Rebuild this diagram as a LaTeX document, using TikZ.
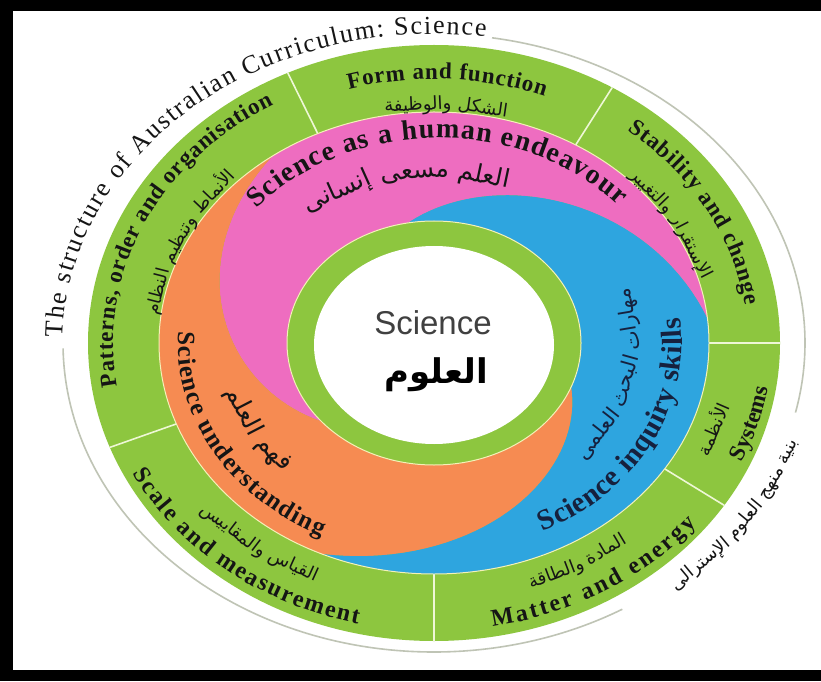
\documentclass[tikz,border=0pt]{standalone}
\usepackage{fontspec}
\setmainfont{Liberation Serif}
\newfontfamily\sansf{Liberation Sans}
\newfontfamily\arabicfont[Script=Arabic]{DejaVu Sans}
\usetikzlibrary{decorations.text}
\TeXXeTstate=1
\definecolor{grn}{HTML}{8DC63F}
\definecolor{pnk}{HTML}{EE6DC0}
\definecolor{org}{HTML}{F68B52}
\definecolor{blu}{HTML}{2EA5DF}
\definecolor{divl}{HTML}{EEF7D6}
\definecolor{pale}{HTML}{F4F1B8}
\definecolor{thinarc}{HTML}{BFC4B5}
\definecolor{txt}{HTML}{151515}
\definecolor{navy}{HTML}{16213E}
\definecolor{cgray}{HTML}{404040}
% text along an elliptical arc: cx, cy, rx, ry, start, end, align, text
\newcommand{\tap}[8]{%
  \path[decorate, decoration={text along path, text align={#7}, text={#8}}]
    ({#1+#3*cos(#5)},{#2+#4*sin(#5)}) arc[start angle=#5, end angle=#6, x radius=#3pt, y radius=#4pt];}
\newcommand{\ttlf}{\fontsize{26}{26}\selectfont\color{txt}}
\newcommand{\lblf}{\fontsize{23}{23}\selectfont\bfseries\color{txt}}
\newcommand{\lblg}{\fontsize{24}{24}\selectfont\bfseries\color{txt}}
\newcommand{\arf}{\arabicfont\fontsize{18}{18}\selectfont\color{txt}}
\newcommand{\arp}{\arabicfont\fontsize{25}{25}\selectfont\color{txt}}
\newcommand{\arb}{\arabicfont\fontsize{21}{21}\selectfont\color{navy}}
\newcommand{\ar}[1]{{\beginR #1\endR}}
\begin{document}
\begin{tikzpicture}[x=1pt,y=1pt,
  divider/.style={draw=divl, line width=1.6pt},
  thinline/.style={draw=thinarc, line width=1.6pt}]
\useasboundingbox (0,0) rectangle (821,681);
\fill[white] (0,0) rectangle (821,681);
% frame
\fill[black] (0,670) rectangle (821,681);
\fill[black] (0,0) rectangle (821,11);
\fill[black] (0,0) rectangle (13,681);
% outer green ring
\fill[grn] (434,338) ellipse[x radius=346pt, y radius=298pt];
% dividers
\foreach \a/\n in {115/d1, 59/d2, 0/d3, -33/d4, -90/d5, 200.5/d6}{
  \coordinate (\n i) at ({434+275*cos(\a)},{338+231*sin(\a)});
  \coordinate (\n o) at ({434+346*cos(\a)},{338+298*sin(\a)});
  \draw[divider] (\n i) -- (\n o);
}
% spiral regions
\foreach \t/\c in {6/pnk, 126/org, 246/blu}{
  \pgfmathsetmacro{\tn}{\t+120}
  \fill[\c] ({434+275*cos(\t)},{338+231*sin(\t)})
    arc[start angle=\t, end angle=\tn, x radius=275pt, y radius=231pt]
    -- plot[domain=0:120, samples=50, variable=\p]
       ({434+275*(1-\p/200)*cos(\tn+\p)},{338+231*(1-\p/200)*sin(\tn+\p)})
    -- plot[domain=0:120, samples=50, variable=\p]
       ({434+275*(0.4+\p/200)*cos(\tn-\p)},{338+231*(0.4+\p/200)*sin(\tn-\p)})
    -- cycle;
}
\draw[pale, line width=1pt] (434,338) ellipse[x radius=275pt, y radius=231pt];
% inner ring
\fill[grn, draw=pale, line width=1pt] (434,338) ellipse[x radius=147pt, y radius=122pt];
\fill[white] (434,336) ellipse[x radius=120pt, y radius=99pt];
% thin outer arcs
\draw[thinline] ({434+371*cos(81)},{338+309*sin(81)}) arc[start angle=81, end angle=-13, x radius=371pt, y radius=309pt];
\draw[thinline] ({434+371*cos(181)},{338+309*sin(181)}) arc[start angle=181, end angle=300.5, x radius=371pt, y radius=309pt];
% title
\tap{434}{338}{371}{309}{179}{82}{fit to path}{|\ttlf|The structure of Australian Curriculum: Science}
% outer ring English
\tap{434}{338}{309}{264}{106}{69}{fit to path}{|\lblf|Form and function}
\tap{434}{338}{321}{275}{189}{120}{fit to path}{|\lblf|Patterns, order and organisation}
\tap{434}{338}{314}{269}{52}{8}{fit to path}{|\lblf|Stability and change}
\tap{434}{338}{338}{288}{-33}{0}{center}{|\lblf|Systems}
\tap{434}{338}{338}{288}{-80}{-39}{fit to path}{|\lblg|Matter and energy}
\tap{434}{338}{338}{288}{207}{257}{fit to path}{|\lblg|Scale and measurement}
% colored ring English
\tap{439}{338}{242}{205}{139}{42}{fit to path}{|\fontsize{28}{28}\selectfont\bfseries\color{txt}|Science as a human endeavour}
\tap{434}{338}{248}{210}{-64}{7}{fit to path}{|\fontsize{29}{29}\selectfont\bfseries\color{navy}|Science inquiry skills}
\tap{434}{338}{256}{215}{177}{244}{fit to path}{|\fontsize{25}{25}\selectfont\bfseries\color{txt}|Science understanding}
% outer ring Arabic
\tap{434}{338}{279}{233}{110}{65}{center}{|\arf|\ar{والوظيفة} \ar{الشكل}}
\tap{434}{338}{277}{235}{187}{123}{center}{|\arf|\ar{النظام} \ar{وتنظيم} \ar{الأنماط}}
\tap{434}{338}{276}{234}{53}{7}{center}{|\arf|\ar{والتغيير} \ar{الإستقرار}}
\tap{434}{338}{304}{258}{-33}{-7}{center}{|\arf|\ar{الأنظمة}}
\tap{434}{338}{304}{258}{-85}{-36}{center}{|\arf|\ar{والطاقة} \ar{المادة}}
\tap{434}{338}{304}{258}{208}{258}{center}{|\arf|\ar{والمقاييس} \ar{القياس}}
% outer Arabic title
\tap{434}{338}{382}{318}{-59}{-9}{center}{|\arf|\ar{الإسترالى} \ar{العلوم} \ar{منهج} \ar{بنية}}
% colored ring Arabic
\tap{434}{338}{198}{165}{140}{58}{center}{|\arp|\ar{إنسانى} \ar{مسعى} \ar{العلم}}
\tap{434}{338}{214}{180}{185}{235}{center}{|\arp|\ar{العلم} \ar{فهم}}
\tap{434}{338}{203}{172}{-45}{21}{center}{|\arb|\ar{العلمى} \ar{البحث} \ar{مهارات}}
% center
\node[text=cgray, font=\sansf\fontsize{33}{33}\selectfont] (sci) at (433,358) {Science};
\node[text=black, font=\arabicfont\bfseries\fontsize{34}{34}\selectfont] (olum) at (436,306) {\beginR العلوم\endR};
\end{tikzpicture}
\end{document}
